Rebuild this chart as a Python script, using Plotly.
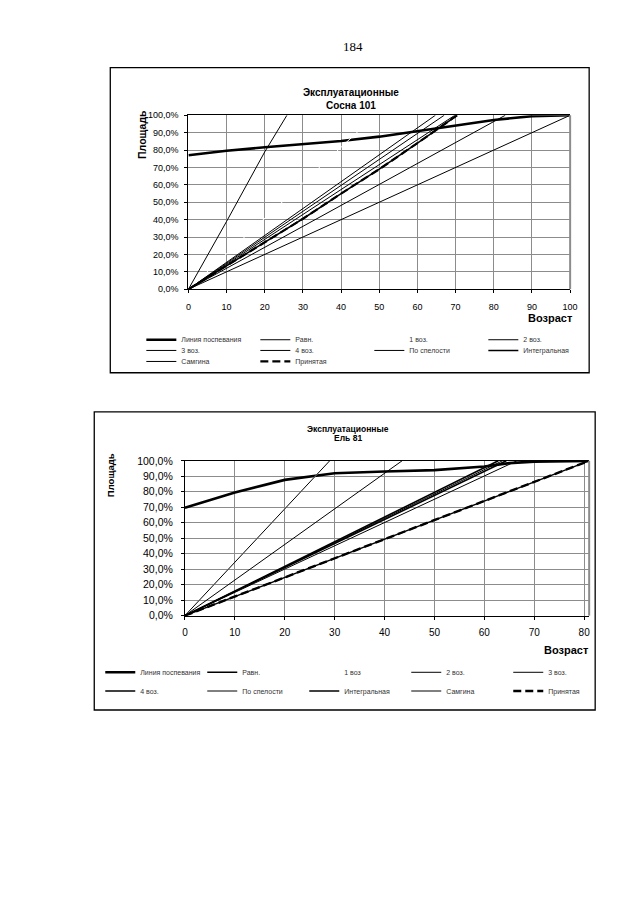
import plotly.graph_objects as go

# ------------------------------------------------------------
# Data (ages in years, area in % of stand)
# ------------------------------------------------------------
PAGE_NUMBER = "184"
Y_TICKS = [0, 10, 20, 30, 40, 50, 60, 70, 80, 90, 100]
Y_TICK_LABELS = ["0,0%", "10,0%", "20,0%", "30,0%", "40,0%", "50,0%",
                 "60,0%", "70,0%", "80,0%", "90,0%", "100,0%"]

# Chart 1 - Сосна 101
pine_title = ["Эксплуатационные", "Сосна 101"]
pine_x_ticks = [0, 10, 20, 30, 40, 50, 60, 70, 80, 90, 100]
pine_ripening_age = [0, 10, 20, 30, 40, 50, 60, 70, 80, 90, 100]
pine_ripening_area = [77.0, 79.6, 81.6, 83.3, 85.2, 87.7, 90.8, 93.8, 97.3, 99.5, 100.0]
pine_uniform_age = [0, 100]
pine_uniform_area = [0, 100]
pine_class1_age = [0, 49]
pine_class1_area = [0, 100]
pine_class2_age = [0, 10, 20, 25.8]
pine_class2_area = [0, 39, 79, 100]
pine_class3_age = [0, 64.7]
pine_class3_area = [0, 100]
pine_class4_age = [0, 67]
pine_class4_area = [0, 100]
pine_maturity_age = [0, 69.8]
pine_maturity_area = [0, 100]
pine_integral_age = [0, 10, 20, 30, 40, 50, 60, 70.4]
pine_integral_area = [0, 13.5, 27, 40.5, 55, 69, 84, 100]
pine_samgina_age = [0, 83]
pine_samgina_area = [0, 100]
pine_accepted_age = [0, 10, 20, 30, 40, 50, 60, 70.4]
pine_accepted_area = [0, 13.5, 27, 40.5, 55, 69, 84, 100]

# Chart 2 - Ель 81
spruce_title = ["Эксплуатационные", "Ель 81"]
spruce_x_ticks = [0, 10, 20, 30, 40, 50, 60, 70, 80]
spruce_ripening_age = [0, 10, 20, 30, 40, 50, 60, 65, 70, 81]
spruce_ripening_area = [69.7, 79.5, 87.7, 92.0, 93.1, 94.0, 96.3, 98.5, 99.5, 100.0]
spruce_uniform_age = [0, 81]
spruce_uniform_area = [0, 100]
spruce_class1_age = [0, 29]
spruce_class1_area = [0, 100]
spruce_class2_age = [0, 29]
spruce_class2_area = [0, 100]
spruce_class3_age = [0, 43.5]
spruce_class3_area = [0, 100]
spruce_class4_age = [0, 62.8]
spruce_class4_area = [0, 100]
spruce_maturity_age = [0, 63.6]
spruce_maturity_area = [0, 100]
spruce_integral_age = [0, 64.4]
spruce_integral_area = [0, 100]
spruce_samgina_age = [0, 66.5]
spruce_samgina_area = [0, 100]
spruce_accepted_age = [0, 81]
spruce_accepted_area = [0, 100]

FONT = "Liberation Sans, Arial, sans-serif"
W, H = 640, 905
# page position -> figure position (offset/scale seen in the rendered page)
OFF_X, OFF_Y, SCALE_X, SCALE_Y = 10.9, 14.5, 0.981, 0.986


def px_x(v):
    return (v - OFF_X) / SCALE_X / W


def px_y(v):
    return 1 - (v - OFF_Y) / SCALE_Y / H


fig = go.Figure()


def add_line(x, y, name, axis, legend, width=1.0, color="black", dash="solid"):
    fig.add_trace(go.Scatter(
        x=x, y=y, name=name, mode="lines",
        line=dict(color=color, width=width, dash=dash),
        xaxis="x" + axis, yaxis="y" + axis, legend=legend,
        hoverinfo="skip",
    ))


# chart 1 traces
add_line(pine_ripening_age, pine_ripening_area, "Линия поспевания", "", "legend", 2.6)
add_line(pine_uniform_age, pine_uniform_area, "Равн.", "", "legend", 1.0)
add_line(pine_class1_age, pine_class1_area, "1 воз.", "", "legend", 1.0, "white")
add_line(pine_class2_age, pine_class2_area, "2 воз.", "", "legend", 1.0)
add_line(pine_class3_age, pine_class3_area, "3 воз.", "", "legend2", 1.0)
add_line(pine_class4_age, pine_class4_area, "4 воз.", "", "legend2", 1.0)
add_line(pine_maturity_age, pine_maturity_area, "По спелости", "", "legend2", 1.0)
add_line(pine_integral_age, pine_integral_area, "Интегральная", "", "legend2", 1.6)
add_line(pine_samgina_age, pine_samgina_area, "Самгина", "", "legend3", 1.0)
add_line(pine_accepted_age, pine_accepted_area, "Принятая", "", "legend3", 2.2, dash="8px,4px")

# chart 2 traces
add_line(spruce_ripening_age, spruce_ripening_area, "Линия поспевания", "2", "legend4", 2.6)
add_line(spruce_uniform_age, spruce_uniform_area, "Равн.", "2", "legend4", 1.4)
add_line(spruce_class1_age, spruce_class1_area, "1 воз", "2", "legend4", 1.0, "white")
add_line(spruce_class2_age, spruce_class2_area, "2 воз.", "2", "legend4", 1.0)
add_line(spruce_class3_age, spruce_class3_area, "3 воз.", "2", "legend4", 1.0)
add_line(spruce_class4_age, spruce_class4_area, "4 воз.", "2", "legend5", 1.6)
add_line(spruce_maturity_age, spruce_maturity_area, "По спелости", "2", "legend5", 1.0)
add_line(spruce_integral_age, spruce_integral_area, "Интегральная", "2", "legend5", 1.6)
add_line(spruce_samgina_age, spruce_samgina_area, "Самгина", "2", "legend5", 1.0)
add_line(spruce_accepted_age, spruce_accepted_area, "Принятая", "2", "legend5", 2.4, dash="8px,4px")

grid = "#8c8c8c"


def x_axis(domain, rng, ticks, size, anchor, standoff):
    return dict(domain=domain, range=rng, tickvals=ticks, ticktext=[str(t) for t in ticks],
                showgrid=True, gridcolor=grid, gridwidth=1, zeroline=False,
                showline=True, linecolor="black", linewidth=1, mirror=True,
                ticks="outside", ticklen=3, tickcolor="black", ticklabelstandoff=standoff,
                tickfont=dict(family=FONT, size=size, color="black"), anchor=anchor,
                fixedrange=True)


def y_axis(domain, size, anchor, standoff):
    return dict(domain=domain, range=[0, 100], tickvals=Y_TICKS, ticktext=Y_TICK_LABELS,
                showgrid=True, gridcolor=grid, gridwidth=1, zeroline=False,
                showline=True, linecolor="black", linewidth=1,
                ticks="outside", ticklen=3, tickcolor="black", ticklabelstandoff=standoff,
                tickfont=dict(family=FONT, size=size, color="black"), anchor=anchor,
                fixedrange=True)


def legend_row(x_left, y_mid, entry):
    return dict(orientation="h", x=px_x(x_left - 5), y=px_y(y_mid), xanchor="left",
                yanchor="middle", entrywidth=entry, entrywidthmode="pixels",
                font=dict(family=FONT, size=7, color="#333333"), bgcolor="rgba(0,0,0,0)",
                itemwidth=30, tracegroupgap=0, itemclick=False, itemdoubleclick=False)


annotations = [
    dict(text=PAGE_NUMBER, x=px_x(352), y=px_y(47), font=dict(family="Liberation Serif", size=13)),
    dict(text="<b>%s</b>" % pine_title[0], x=px_x(350), y=px_y(93), font=dict(family=FONT, size=10)),
    dict(text="<b>%s</b>" % pine_title[1], x=px_x(350), y=px_y(106), font=dict(family=FONT, size=10)),
    dict(text="<b>Площадь</b>", x=px_x(141), y=px_y(135), textangle=-90, font=dict(family=FONT, size=10.5)),
    dict(text="<b>Возраст</b>", x=px_x(549), y=px_y(318), font=dict(family=FONT, size=11)),
    dict(text="<b>%s</b>" % spruce_title[0], x=px_x(347), y=px_y(429), font=dict(family=FONT, size=8.5)),
    dict(text="<b>%s</b>" % spruce_title[1], x=px_x(347), y=px_y(438), font=dict(family=FONT, size=8.5)),
    dict(text="<b>Площадь</b>", x=px_x(111), y=px_y(475), textangle=-90, font=dict(family=FONT, size=9.5)),
    dict(text="<b>Возраст</b>", x=px_x(565), y=px_y(650), font=dict(family=FONT, size=11)),
]
for a in annotations:
    a.update(xref="paper", yref="paper", showarrow=False, xanchor="center", yanchor="middle")
    a["font"]["color"] = "black"

shapes = [
    # chart frames
    dict(type="rect", xref="paper", yref="paper", x0=px_x(110), x1=px_x(588), y0=px_y(68), y1=px_y(373),
         line=dict(color="black", width=1.3)),
    dict(type="rect", xref="paper", yref="paper", x0=px_x(94), x1=px_x(594), y0=px_y(412), y1=px_y(710),
         line=dict(color="black", width=1.3)),
    # right edge of plot areas
    dict(type="line", xref="x domain", yref="y domain", x0=1, x1=1, y0=0, y1=1,
         line=dict(color=grid, width=2)),
    dict(type="line", xref="x2 domain", yref="y2 domain", x0=1, x1=1, y0=0, y1=1,
         line=dict(color=grid, width=2)),
]

fig.update_layout(
    width=W, height=H, margin=dict(l=0, r=0, t=0, b=0),
    paper_bgcolor="white", plot_bgcolor="white",
    font=dict(family=FONT, color="black"),
    xaxis=x_axis([px_x(188), px_x(569)], [0, 100], pine_x_ticks, 9, "y", 6),
    yaxis=y_axis([px_y(289.5), px_y(115.7)], 9, "x", 4),
    xaxis2=x_axis([px_x(184.5), px_x(588)], [0, 81], spruce_x_ticks, 10, "y2", 4),
    yaxis2=y_axis([px_y(615.7), px_y(461)], 10.5, "x2", 6),
    legend=legend_row(146, 340, 69),
    legend2=legend_row(146, 350.7, 69),
    legend3=legend_row(146, 361.7, 69),
    legend4=legend_row(105, 672.3, 57),
    legend5=legend_row(105, 691, 57),
    annotations=annotations,
    shapes=shapes,
    showlegend=True,
)

fig.write_html("out.html")
